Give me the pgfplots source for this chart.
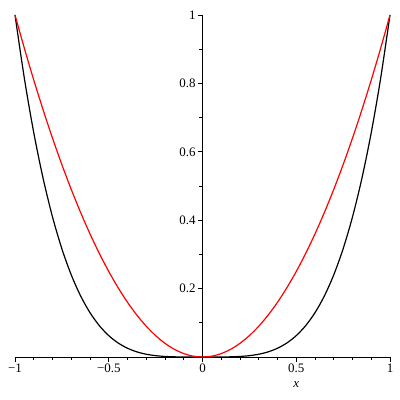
\documentclass[border=0pt]{standalone}
\usepackage{pgfplots}
\pgfplotsset{compat=1.18}
\usepackage{fontspec}
\setmainfont{Liberation Serif}
\begin{document}
\begin{tikzpicture}
\begin{axis}[
  scale only axis, width=375bp, height=342bp,
  xmin=-1, xmax=1, ymin=0, ymax=1,
  axis lines=middle,
  axis line style={-, line width=0.8bp},
  xtick={-1,-0.5,0,0.5,1}, xticklabels={−1,−0.5,0,0.5,1},
  ytick={0.2,0.4,0.6,0.8,1}, yticklabels={0.2,0.4,0.6,0.8,1},
  minor xtick={-0.9,-0.8,-0.7,-0.6,-0.4,-0.3,-0.2,-0.1,0.1,0.2,0.3,0.4,0.6,0.7,0.8,0.9},
  minor ytick={0.1,0.3,0.5,0.7,0.9},
  tick align=outside, major tick length=4.5bp, minor tick length=3bp,
  tick style={black, line width=0.6bp},
  hide obscured x ticks=false,
  ticklabel style={font=\fontsize{13}{15}\selectfont},
  xticklabel style={yshift=1bp},
  yticklabel style={xshift=1bp},
  xlabel={\textit{x}},
  xlabel style={at={(axis description cs:0.75,0)}, anchor=center, yshift=-28bp, font=\fontsize{13}{15}\selectfont},
  clip=false,
]
\coordinate (sw) at (rel axis cs:0,0);
\coordinate (ne) at (rel axis cs:1,1);
\addplot[smooth, black, line width=1.2bp] coordinates {
(-1,1) (-0.95,0.81450625) (-0.9,0.6561) (-0.85,0.52200625) (-0.8,0.4096) (-0.75,0.31640625)
(-0.7,0.2401) (-0.65,0.17850625) (-0.6,0.1296) (-0.55,0.09150625) (-0.5,0.0625)
(-0.45,0.04100625) (-0.4,0.0256) (-0.35,0.01500625) (-0.3,0.0081) (-0.25,0.00390625)
(-0.2,0.0016) (-0.15,0.00050625) (-0.1,0.0001) (-0.05,0.00000625) (0,0)
(0.05,0.00000625) (0.1,0.0001) (0.15,0.00050625) (0.2,0.0016) (0.25,0.00390625)
(0.3,0.0081) (0.35,0.01500625) (0.4,0.0256) (0.45,0.04100625) (0.5,0.0625)
(0.55,0.09150625) (0.6,0.1296) (0.65,0.17850625) (0.7,0.2401) (0.75,0.31640625)
(0.8,0.4096) (0.85,0.52200625) (0.9,0.6561) (0.95,0.81450625) (1,1)
};
\addplot[smooth, red, line width=1.2bp] coordinates {
(-1,1) (-0.95,0.9025) (-0.9,0.81) (-0.85,0.7225) (-0.8,0.64) (-0.75,0.5625)
(-0.7,0.49) (-0.65,0.4225) (-0.6,0.36) (-0.55,0.3025) (-0.5,0.25)
(-0.45,0.2025) (-0.4,0.16) (-0.35,0.1225) (-0.3,0.09) (-0.25,0.0625)
(-0.2,0.04) (-0.15,0.0225) (-0.1,0.01) (-0.05,0.0025) (0,0)
(0.05,0.0025) (0.1,0.01) (0.15,0.0225) (0.2,0.04) (0.25,0.0625)
(0.3,0.09) (0.35,0.1225) (0.4,0.16) (0.45,0.2025) (0.5,0.25)
(0.55,0.3025) (0.6,0.36) (0.65,0.4225) (0.7,0.49) (0.75,0.5625)
(0.8,0.64) (0.85,0.7225) (0.9,0.81) (0.95,0.9025) (1,1)
};
\end{axis}
\pgfresetboundingbox
\path[use as bounding box] ([xshift=-15bp,yshift=-43bp]sw) rectangle ([xshift=10bp,yshift=15bp]ne);
\end{tikzpicture}
\end{document}
